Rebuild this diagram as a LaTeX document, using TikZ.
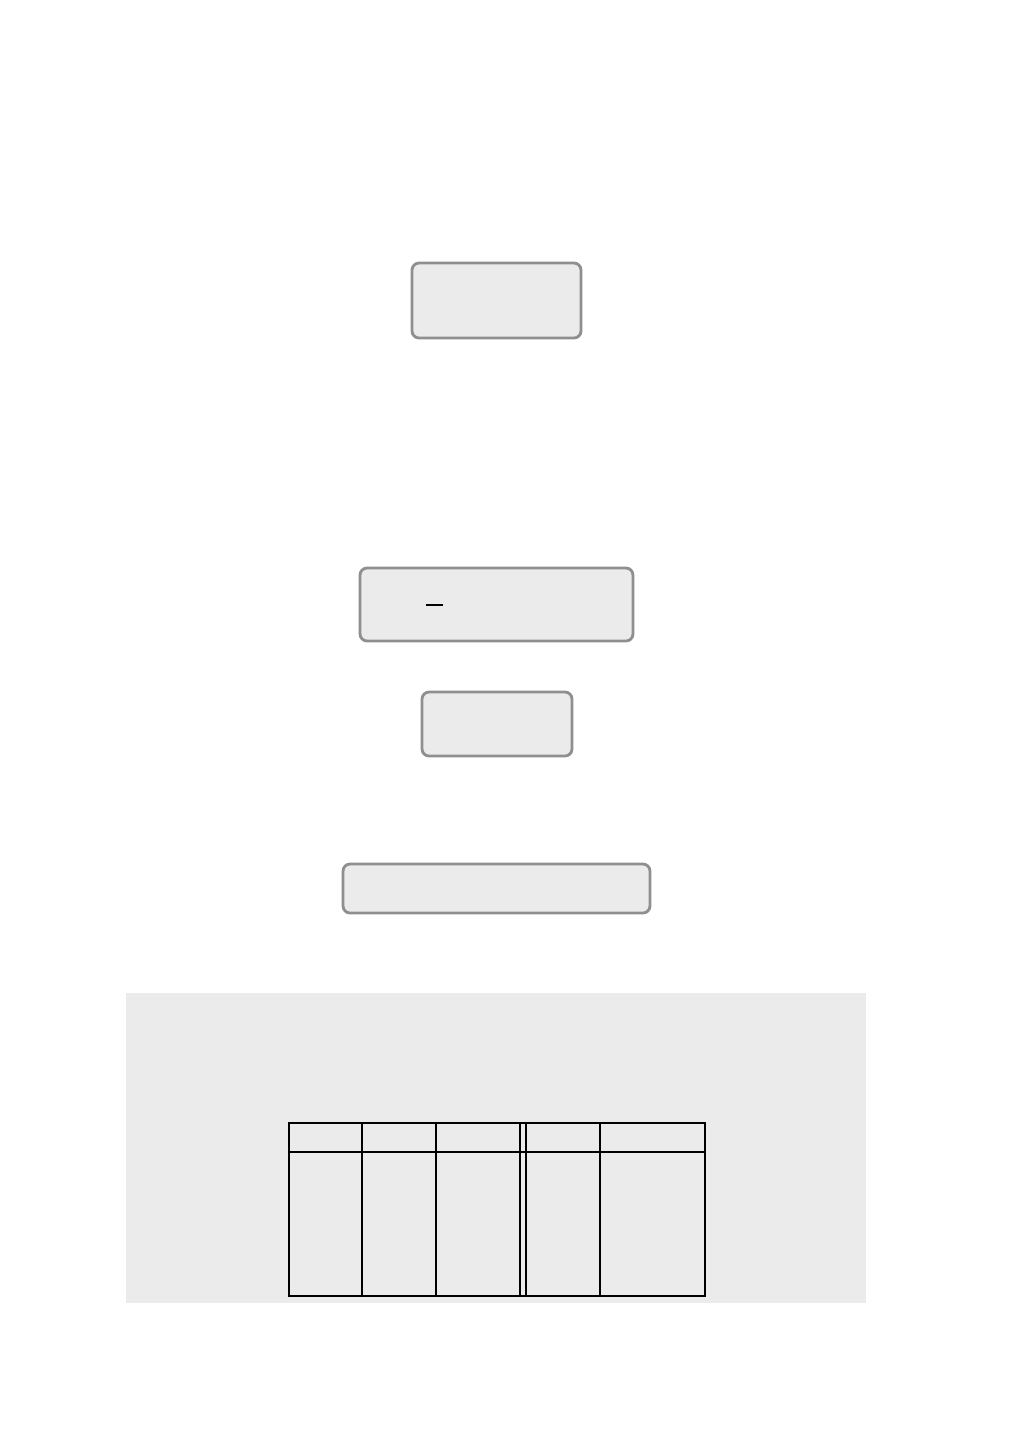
\documentclass[tikz,border=0pt]{standalone}
\usepackage{tikz}

\definecolor{boxfill}{HTML}{EBEBEB}
\definecolor{boxline}{HTML}{8F8F8F}

\tikzset{
	stagebox/.style={draw=boxline, fill=boxfill, line width=1.6pt, rounded corners=4pt, inner sep=0pt},
	panelbox/.style={fill=boxfill, draw=none, inner sep=0pt},
	rule/.style={line width=0.85pt, black}
}

\begin{document}
\begin{tikzpicture}[x=0.02cm, y=-0.02cm]
	\def \tl{289}
	\def \tr{705}
	\def \tt{1123}
	\def \th{1152}
	\def \tb{1296}

	\useasboundingbox (0,0) rectangle (1009,1441);

	% Stage boxes
	\node[stagebox, minimum width=3.38cm, minimum height=1.50cm] (top) at (496.5,300.5) {};
	\node[stagebox, minimum width=5.46cm, minimum height=1.46cm] (mid) at (496.5,604.5) {};
	\node[stagebox, minimum width=3.00cm, minimum height=1.28cm] (small) at (497,724) {};
	\node[stagebox, minimum width=6.14cm, minimum height=0.98cm] (wide) at (496.5,888.5) {};
	\draw[line width=0.8pt] (426,605) -- (443,605);

	% Bottom panel with table
	\node[panelbox, minimum width=14.8cm, minimum height=6.2cm] (panel) at (496,1148) {};
	\draw[rule] (\tl,\tt) rectangle (\tr,\tb);
	\draw[rule] (\tl,\th) -- (\tr,\th);
	\foreach \cx in {362, 436, 520, 526} {
		\draw[rule] (\cx,\tt) -- (\cx,\tb);
	}
	\draw[rule, line width=1.4pt] (600,\tt) -- (600,\tb);
\end{tikzpicture}
\end{document}
